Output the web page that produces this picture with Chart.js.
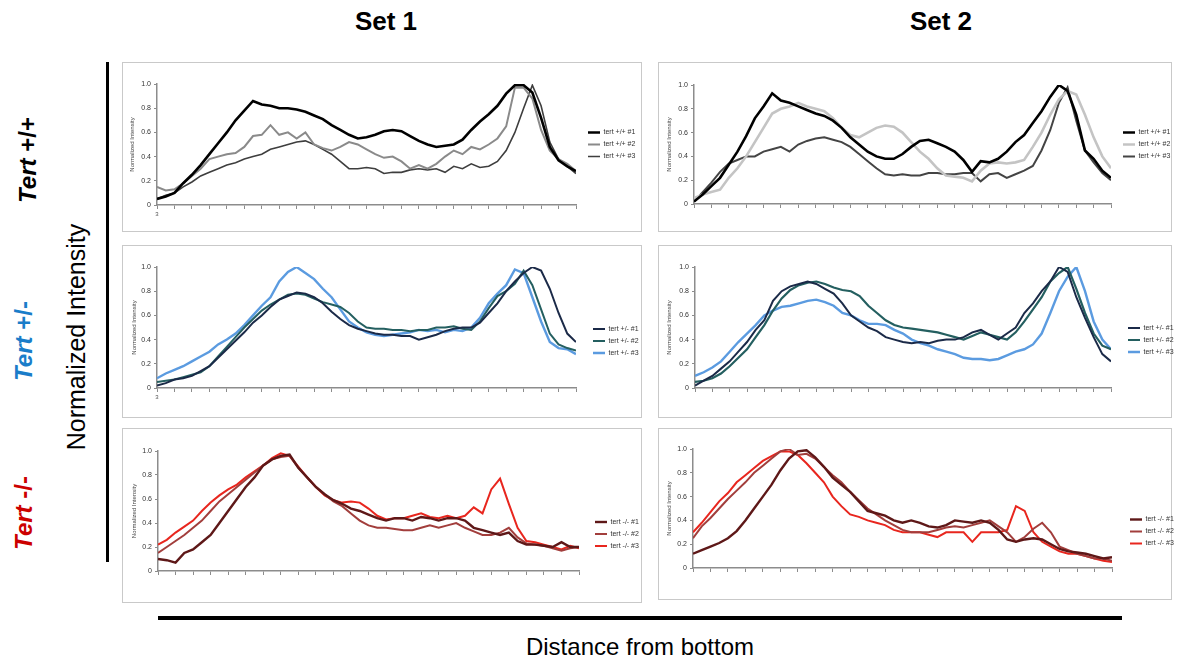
<!DOCTYPE html>
<html>
<head>
<meta charset="utf-8">
<script src="https://cdn.jsdelivr.net/npm/chart.js@4.4.0/dist/chart.umd.min.js"></script>
<style>
  html, body { margin:0; padding:0; }
  body { width:1177px; height:663px; background:#fff; position:relative; overflow:hidden;
         font-family:"Liberation Sans", Arial, sans-serif; color:#000; }
  .abs { position:absolute; white-space:nowrap; }
  .set { font-weight:bold; font-size:26px; width:200px; text-align:center; top:6px; }
  .rot { position:absolute; white-space:nowrap; transform:translate(-50%,-50%) rotate(-90deg); line-height:normal; }
  .row { font-weight:bold; font-size:24px; }
  .row i { font-style:italic; }
  .box { position:absolute; border:1px solid #c9c9c9; box-sizing:border-box; background:#fff; }
  canvas { position:absolute; }
</style>
</head>
<body>

<div class="abs set" style="left:286px;">Set 1</div>
<div class="abs set" style="left:841px;">Set 2</div>

<div class="rot row" style="left:28px;top:160px;color:#000;"><i>Tert</i> +/+</div>
<div class="rot row" style="left:24px;top:341px;color:#1a7dc9;"><i>Tert</i> +/-</div>
<div class="rot row" style="left:24px;top:513px;color:#cc0000;"><i>Tert</i> -/-</div>
<div class="rot" style="left:76px;top:337px;font-size:25px;">Normalized Intensity</div>

<div class="abs" style="left:106px;top:62px;width:3px;height:500px;background:#000;"></div>
<div class="abs" style="left:158px;top:616px;width:964px;height:4px;background:#000;"></div>
<div class="abs" style="left:0;width:1280px;top:633px;text-align:center;font-size:24px;">Distance from bottom</div>

<div class="box" style="left:122px;top:62px;width:520px;height:170px;"></div>
<div class="box" style="left:658px;top:62px;width:514px;height:170px;"></div>
<div class="box" style="left:122px;top:245px;width:520px;height:173px;"></div>
<div class="box" style="left:658px;top:245px;width:514px;height:173px;"></div>
<div class="box" style="left:122px;top:428px;width:520px;height:175px;"></div>
<div class="box" style="left:658px;top:428px;width:514px;height:172px;"></div>

<script>
// ---------- data (positions along the axis: 49 samples, ticks every 2 samples) ----------
const sampleIndex = Array.from({length: 49}, (_, i) => i);

const seriesNamesPP = ['tert +/+ #1', 'tert +/+ #2', 'tert +/+ #3'];
const seriesNamesPM = ['tert +/- #1', 'tert +/- #2', 'tert +/- #3'];
const seriesNamesMM = ['tert -/- #1', 'tert -/- #2', 'tert -/- #3'];

// Set 1, Tert +/+
const set1PP1 = [0.05,0.07,0.10,0.18,0.25,0.33,0.42,0.51,0.60,0.70,0.78,0.86,0.83,0.82,0.80,0.80,0.79,0.77,0.74,0.71,0.66,0.62,0.58,0.55,0.56,0.58,0.61,0.62,0.61,0.57,0.53,0.50,0.48,0.49,0.50,0.54,0.62,0.69,0.75,0.82,0.92,0.99,0.99,0.93,0.72,0.48,0.37,0.32,0.28];
const set1PP2 = [0.15,0.12,0.13,0.18,0.24,0.30,0.38,0.40,0.42,0.43,0.48,0.57,0.58,0.66,0.58,0.60,0.55,0.60,0.50,0.47,0.45,0.48,0.52,0.50,0.46,0.42,0.39,0.40,0.36,0.30,0.33,0.30,0.34,0.40,0.45,0.42,0.48,0.46,0.50,0.55,0.65,0.97,0.97,0.88,0.62,0.45,0.38,0.34,0.28];
const set1PP3 = [0.05,0.08,0.10,0.15,0.19,0.24,0.27,0.30,0.33,0.35,0.38,0.40,0.42,0.46,0.48,0.50,0.52,0.53,0.50,0.46,0.42,0.36,0.30,0.30,0.31,0.30,0.26,0.27,0.27,0.29,0.30,0.29,0.30,0.27,0.32,0.30,0.34,0.31,0.32,0.36,0.45,0.60,0.80,0.99,0.82,0.52,0.38,0.32,0.26];

// Set 2, Tert +/+
const set2PP1 = [0.02,0.08,0.15,0.22,0.33,0.44,0.57,0.72,0.82,0.93,0.87,0.85,0.82,0.79,0.76,0.74,0.70,0.64,0.56,0.50,0.44,0.40,0.38,0.38,0.42,0.48,0.53,0.54,0.51,0.48,0.44,0.37,0.27,0.36,0.35,0.38,0.44,0.52,0.58,0.68,0.78,0.90,1.00,0.95,0.75,0.45,0.38,0.28,0.22];
const set2PP2 = [0.05,0.08,0.10,0.12,0.22,0.30,0.40,0.52,0.64,0.76,0.80,0.82,0.85,0.82,0.80,0.78,0.72,0.64,0.58,0.56,0.60,0.64,0.66,0.65,0.60,0.52,0.44,0.38,0.30,0.24,0.23,0.22,0.19,0.28,0.34,0.35,0.34,0.35,0.37,0.48,0.60,0.75,0.88,0.95,0.92,0.75,0.56,0.40,0.30];
const set2PP3 = [0.02,0.10,0.18,0.27,0.34,0.37,0.40,0.40,0.44,0.46,0.48,0.44,0.50,0.53,0.55,0.56,0.54,0.52,0.48,0.42,0.36,0.30,0.25,0.24,0.25,0.24,0.24,0.26,0.26,0.25,0.25,0.26,0.26,0.19,0.25,0.26,0.22,0.25,0.28,0.32,0.45,0.62,0.85,0.98,0.70,0.45,0.35,0.26,0.20];

// Set 1, Tert +/-
const set1PM1 = [0.02,0.04,0.07,0.08,0.10,0.14,0.18,0.25,0.32,0.39,0.46,0.54,0.60,0.67,0.73,0.76,0.79,0.78,0.75,0.70,0.63,0.57,0.52,0.49,0.47,0.45,0.44,0.44,0.43,0.43,0.40,0.42,0.44,0.47,0.49,0.50,0.50,0.54,0.62,0.70,0.80,0.88,0.95,1.00,0.97,0.82,0.62,0.45,0.38];
const set1PM2 = [0.05,0.06,0.07,0.09,0.11,0.13,0.18,0.26,0.34,0.42,0.50,0.57,0.64,0.69,0.73,0.77,0.78,0.77,0.74,0.71,0.69,0.67,0.62,0.55,0.50,0.49,0.49,0.48,0.48,0.47,0.48,0.48,0.50,0.50,0.51,0.49,0.48,0.55,0.66,0.76,0.80,0.86,0.97,0.85,0.65,0.45,0.36,0.33,0.31];
const set1PM3 = [0.08,0.12,0.15,0.18,0.22,0.26,0.30,0.36,0.40,0.45,0.52,0.60,0.68,0.75,0.88,0.96,1.00,0.95,0.90,0.82,0.75,0.65,0.55,0.50,0.46,0.44,0.43,0.44,0.45,0.46,0.48,0.47,0.48,0.46,0.48,0.47,0.50,0.58,0.70,0.78,0.85,0.98,0.95,0.75,0.55,0.38,0.33,0.32,0.28];

// Set 2, Tert +/-
const set2PM1 = [0.02,0.06,0.10,0.16,0.22,0.30,0.38,0.48,0.56,0.72,0.80,0.84,0.86,0.88,0.86,0.82,0.78,0.70,0.60,0.55,0.50,0.47,0.42,0.40,0.38,0.37,0.38,0.37,0.39,0.40,0.40,0.42,0.46,0.48,0.44,0.40,0.45,0.50,0.62,0.70,0.80,0.88,1.00,0.96,0.75,0.58,0.42,0.28,0.22];
const set2PM2 = [0.05,0.06,0.08,0.12,0.18,0.25,0.32,0.42,0.52,0.64,0.74,0.81,0.85,0.87,0.88,0.86,0.83,0.81,0.80,0.76,0.68,0.62,0.56,0.52,0.50,0.49,0.48,0.47,0.46,0.44,0.42,0.40,0.43,0.46,0.44,0.42,0.40,0.46,0.55,0.65,0.75,0.88,0.95,1.00,0.82,0.62,0.45,0.35,0.32];
const set2PM3 = [0.10,0.13,0.17,0.22,0.30,0.38,0.45,0.52,0.60,0.64,0.67,0.68,0.70,0.72,0.73,0.71,0.68,0.62,0.60,0.56,0.53,0.53,0.52,0.48,0.45,0.40,0.37,0.35,0.32,0.30,0.28,0.25,0.24,0.24,0.23,0.24,0.27,0.30,0.32,0.36,0.45,0.62,0.80,0.92,1.00,0.80,0.55,0.40,0.32];

// Set 1, Tert -/-
const set1MM1 = [0.10,0.09,0.07,0.15,0.18,0.24,0.30,0.40,0.50,0.60,0.70,0.78,0.88,0.93,0.96,0.97,0.86,0.78,0.70,0.64,0.59,0.56,0.52,0.50,0.47,0.44,0.42,0.44,0.44,0.42,0.45,0.44,0.42,0.44,0.44,0.42,0.36,0.34,0.32,0.30,0.32,0.25,0.22,0.22,0.21,0.20,0.24,0.20,0.20];
const set1MM2 = [0.15,0.20,0.25,0.30,0.36,0.42,0.50,0.58,0.64,0.70,0.76,0.82,0.88,0.93,0.95,0.96,0.86,0.78,0.70,0.64,0.58,0.54,0.48,0.42,0.38,0.36,0.36,0.35,0.34,0.34,0.36,0.38,0.36,0.38,0.40,0.36,0.33,0.30,0.30,0.32,0.36,0.28,0.23,0.22,0.21,0.19,0.17,0.19,0.20];
const set1MM3 = [0.22,0.26,0.32,0.37,0.42,0.50,0.57,0.63,0.68,0.72,0.78,0.83,0.88,0.94,0.98,0.96,0.87,0.78,0.70,0.63,0.59,0.57,0.58,0.57,0.52,0.46,0.43,0.44,0.44,0.46,0.48,0.45,0.44,0.46,0.44,0.46,0.53,0.48,0.68,0.77,0.56,0.36,0.25,0.24,0.22,0.20,0.18,0.21,0.19];

// Set 2, Tert -/-
const set2MM1 = [0.12,0.15,0.18,0.21,0.25,0.31,0.40,0.50,0.60,0.70,0.82,0.92,0.98,0.99,0.93,0.85,0.76,0.70,0.64,0.56,0.48,0.46,0.44,0.40,0.38,0.40,0.38,0.35,0.34,0.36,0.40,0.39,0.38,0.40,0.38,0.32,0.24,0.22,0.24,0.25,0.24,0.20,0.16,0.14,0.13,0.12,0.10,0.08,0.09];
const set2MM2 = [0.25,0.35,0.42,0.50,0.58,0.65,0.72,0.80,0.86,0.92,0.98,1.00,0.95,0.96,0.92,0.85,0.78,0.72,0.64,0.57,0.50,0.45,0.40,0.36,0.32,0.30,0.30,0.30,0.32,0.34,0.35,0.34,0.36,0.38,0.40,0.35,0.30,0.22,0.26,0.33,0.38,0.30,0.18,0.15,0.12,0.10,0.08,0.08,0.06];
const set2MM3 = [0.30,0.38,0.47,0.56,0.63,0.72,0.78,0.84,0.90,0.94,0.98,0.98,0.95,0.88,0.80,0.72,0.60,0.52,0.45,0.43,0.40,0.38,0.36,0.32,0.30,0.30,0.30,0.28,0.26,0.30,0.30,0.30,0.22,0.30,0.30,0.30,0.32,0.52,0.48,0.30,0.22,0.18,0.14,0.12,0.12,0.10,0.08,0.06,0.05];

// ---------- styling / layout ----------
const FONT = '"Liberation Sans", Arial, sans-serif';
Chart.defaults.font.family = FONT;
const LEG_FONT = 7, LEG_BOX = 12, LEG_PAD = 5, PAD_R = 2;

const panels = [
  { series:[set1PP1,set1PP2,set1PP3], names:seriesNamesPP, colors:['#000000','#8a8a8a','#3e3e3e'], widths:[2.6,2,1.6], origin:'3',
    g:{left:120, top:62,  h:170, chartL:157, chartT:84,  chartB:205, chartR:576,  gap:7 }, titlePad:9,  legShift:0 },
  { series:[set2PP1,set2PP2,set2PP3], names:seriesNamesPP, colors:['#000000','#c4c4c4','#444444'], widths:[2.6,2.6,2], origin:'',
    g:{left:657, top:62,  h:170, chartL:694, chartT:85,  chartB:204, chartR:1111, gap:7 }, titlePad:9,  legShift:0 },
  { series:[set1PM1,set1PM2,set1PM3], names:seriesNamesPM, colors:['#1b2a48','#245f60','#5b9be0'], widths:[2,2,2.4], origin:'3',
    g:{left:120, top:245, h:173, chartL:157, chartT:267, chartB:388, chartR:576,  gap:12}, titlePad:11, legShift:27 },
  { series:[set2PM1,set2PM2,set2PM3], names:seriesNamesPM, colors:['#1b2a48','#245f60','#5b9be0'], widths:[2,2.2,2.4], origin:'',
    g:{left:658, top:245, h:173, chartL:695, chartT:267, chartB:388, chartR:1111, gap:12}, titlePad:8,  legShift:25 },
  { series:[set1MM1,set1MM2,set1MM3], names:seriesNamesMM, colors:['#5e1818','#a23e3c','#e8261e'], widths:[2.4,2,2], origin:'',
    g:{left:121, top:428, h:175, chartL:158, chartT:451, chartB:571, chartR:579,  gap:11}, titlePad:10, legShift:46 },
  { series:[set2MM1,set2MM2,set2MM3], names:seriesNamesMM, colors:['#5e1818','#a23e3c','#e8261e'], widths:[2.4,2,2], origin:'',
    g:{left:656, top:428, h:172, chartL:693, chartT:449, chartB:568, chartR:1112, gap:13}, titlePad:10, legShift:46 }
];

const measureCtx = document.createElement('canvas').getContext('2d');
function legendWidth(names) {
  measureCtx.font = 'normal ' + LEG_FONT + 'px ' + FONT;
  const tw = Math.max(...names.map(n => measureCtx.measureText(n).width));
  return LEG_PAD + LEG_BOX + LEG_FONT / 2 + tw + 10;
}

function buildPanel(p) {
  const g = p.g;
  const W = Math.ceil((g.chartR - g.left) + g.gap + legendWidth(p.names) + PAD_R);
  const canvas = document.createElement('canvas');
  canvas.width = W; canvas.height = g.h;
  canvas.style.left = g.left + 'px'; canvas.style.top = g.top + 'px';
  canvas.style.width = W + 'px'; canvas.style.height = g.h + 'px';
  document.body.appendChild(canvas);

  new Chart(canvas, {
    type: 'line',
    data: {
      datasets: p.series.map((vals, i) => ({
        label: p.names[i],
        data: vals.map((v, j) => ({ x: sampleIndex[j], y: v })),
        borderColor: p.colors[i],
        backgroundColor: p.colors[i],
        borderWidth: p.widths[i],
        pointRadius: 0,
        tension: 0,
        fill: false
      }))
    },
    options: {
      responsive: false,
      animation: false,
      devicePixelRatio: 1,
      layout: { padding: { top: g.chartT - g.top, left: 0, right: PAD_R + (W - Math.ceil(0) - ((g.chartR - g.left) + g.gap + legendWidth(p.names) + PAD_R)), bottom: 0 } },
      plugins: {
        tooltip: { enabled: false },
        legend: {
          position: 'right',
          fullSize: false,
          title: { display: p.legShift > 0, text: '', font: { size: 10 }, padding: { top: Math.max(0, p.legShift - 12), bottom: 0 } },
          labels: { usePointStyle: true, pointStyle: 'line', pointStyleWidth: LEG_BOX, padding: LEG_PAD,
                    font: { size: LEG_FONT, family: FONT }, color: '#333' }
        }
      },
      scales: {
        x: {
          type: 'linear', min: 0, max: 48,
          grid: { display: true, drawOnChartArea: false, drawTicks: true, tickLength: 4, color: '#8c8c8c' },
          border: { display: true, color: '#8c8c8c', width: 1.5 },
          ticks: { stepSize: 2, autoSkip: false, maxRotation: 0, padding: 2,
                   font: { size: 6, family: FONT }, color: '#555',
                   callback: (v) => (v === 0 ? p.origin : '') },
          afterFit: (s) => { s.height = g.h - (g.chartB - g.top); }
        },
        y: {
          min: 0, max: 1,
          ticks: { stepSize: 0.2, font: { size: 7, family: FONT }, color: '#333', padding: 3 },
          grid: { display: true, drawOnChartArea: false, tickLength: 3, color: '#8c8c8c' },
          border: { display: true, color: '#8c8c8c', width: 1.5 },
          title: { display: true, text: 'Normalized Intensity', font: { size: 6, family: FONT }, color: '#444',
                   padding: { top: p.titlePad, bottom: 0 } },
          afterFit: (s) => { s.width = g.chartL - g.left; }
        },
        gap: {
          type: 'linear', position: 'right', display: true,
          grid: { display: false }, border: { display: false }, ticks: { display: false },
          afterFit: (s) => { s.width = g.gap; }
        }
      }
    }
  });
}

panels.forEach(buildPanel);
</script>
</body>
</html>
